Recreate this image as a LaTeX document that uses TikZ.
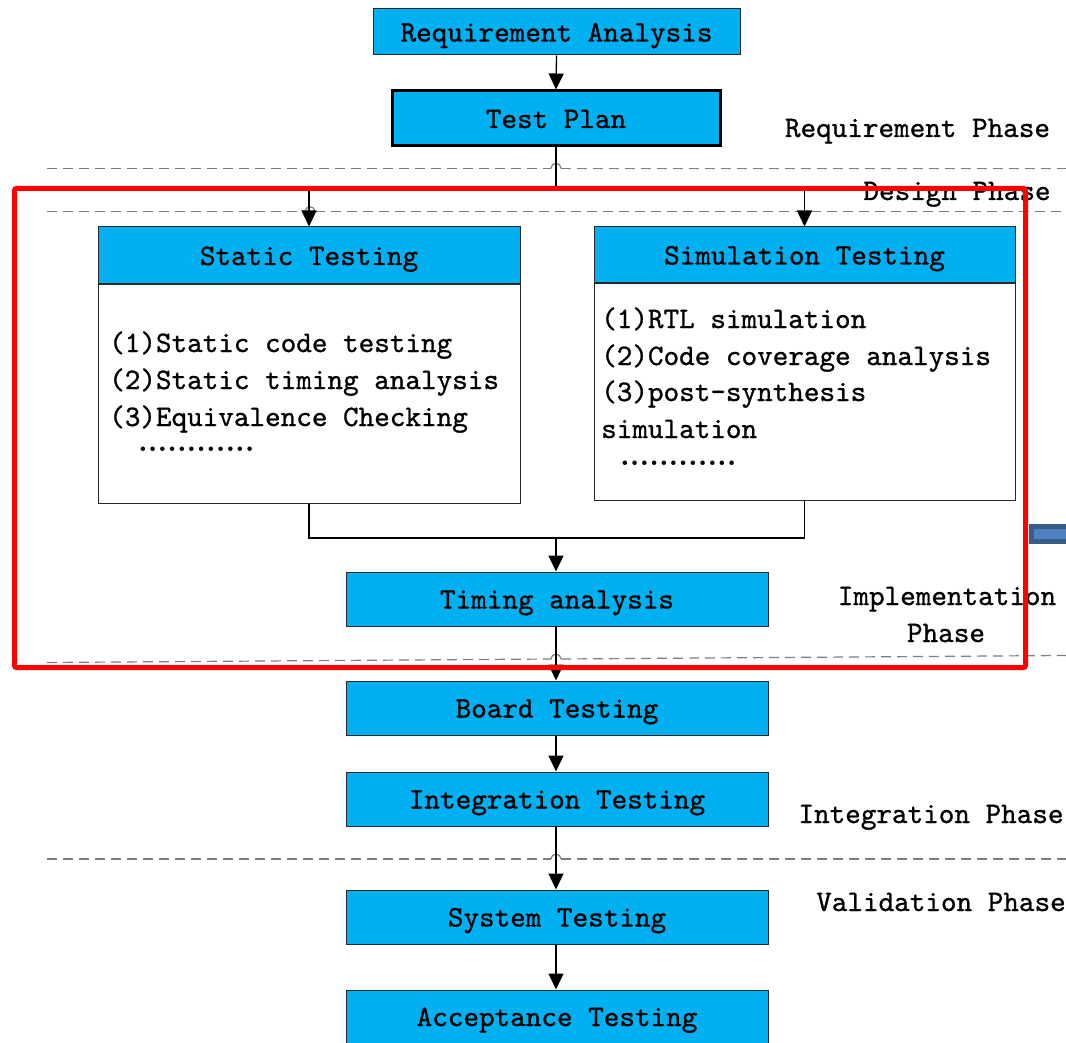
\documentclass[tikz,border=0pt]{standalone}
\usepackage{fontspec}
\usetikzlibrary{arrows.meta}

\newfontfamily\diagmono{lmmono10-regular.otf}[FakeBold=0.9]
\definecolor{boxblue}{RGB}{0,176,240}
\definecolor{edgegray}{RGB}{40,40,40}
\definecolor{phasegray}{RGB}{125,125,125}
\definecolor{barblue}{RGB}{79,129,189}
\definecolor{bardark}{RGB}{56,93,138}
\newcommand\diagfont{\diagmono\fontsize{29.7}{37}\selectfont}
\newcommand\dotrow{{\rmfamily\bfseries\fontsize{31}{31}\selectfont ............}}

\begin{document}
\begin{tikzpicture}[x=1pt,y=-1pt,
  stagebox/.style={draw=edgegray, line width=1pt, fill=boxblue,
    minimum width=422pt, minimum height=54pt, inner sep=0pt,
    font=\diagfont, text height=24pt, text depth=5pt},
  bodybox/.style={draw=edgegray, line width=1pt, fill=white,
    inner sep=0pt, anchor=north},
  itemtext/.style={font=\diagfont, inner sep=0pt, anchor=base west},
  dotstext/.style={inner sep=0pt, anchor=base west, text height=5pt, text depth=0pt},
  phasetext/.style={font=\diagfont, inner sep=0pt, anchor=base},
  phaseline/.style={draw=phasegray, line width=1.2pt, dash pattern=on 10pt off 6pt},
  hop/.style={draw=phasegray, line width=1.2pt},
  flow/.style={draw=black, line width=1.3pt},
  flowarrow/.style={flow, -{Triangle[length=16pt,width=15pt]}}]

\useasboundingbox (0,0) rectangle (1066,1043);

% phase separators, each hopping over the vertical connector
\draw[phaseline] (47,168.3) -- (551,168.3);
\draw[hop] (551,168.3) arc[start angle=180, end angle=0, radius=5pt];
\draw[phaseline] (561,168.3) -- (1066,168.3);

\draw[phaseline] (47,211.7) -- (305,211.7);
\draw[hop] (305,211.7) arc[start angle=180, end angle=0, radius=5pt];
\draw[phaseline] (315,211.7) -- (1066,211.7);

\draw[phaseline] (47,662.5) -- (551,659);
\draw[hop] (551,659) arc[start angle=180, end angle=0, radius=5pt];
\draw[phaseline] (561,659) -- (1066,655.5);

\draw[phaseline] (47,859) -- (551,859);
\draw[hop] (551,859) arc[start angle=180, end angle=0, radius=5pt];
\draw[phaseline] (561,859) -- (1066,859);

% stages
\node[stagebox, minimum width=367pt, minimum height=46pt] (req) at (556.5,32) {Requirement Analysis};
\node[stagebox, minimum width=328pt, minimum height=55pt, draw=black, line width=3pt] (plan) at (556,118.5) {Test Plan};

\node[stagebox, minimum height=57pt] (static) at (309,255.5) {Static Testing};
\node[bodybox, minimum width=422pt, minimum height=218pt] (staticbody) at (static.south) {};
\node[stagebox, minimum width=421pt, minimum height=56pt] (sim) at (804.5,255) {Simulation Testing};
\node[bodybox, minimum width=421pt, minimum height=216pt] (simbody) at (sim.south) {};

\node[stagebox] (timing) at (557,599) {Timing analysis};
\node[stagebox] (board) at (557,708) {Board Testing};
\node[stagebox] (integ) at (557,799) {Integration Testing};
\node[stagebox] (system) at (557,917) {System Testing};
\node[stagebox, minimum height=53pt] (accept) at (557,1016.5) {Acceptance Testing};

% box contents
\node[itemtext] (st1) at (109,352) {(1)Static code testing};
\node[itemtext] (st2) at (109,389) {(2)Static timing analysis};
\node[itemtext] (st3) at (109,426) {(3)Equivalence Checking};
\node[dotstext] (stdots) at (138,451) {\dotrow};

\node[itemtext] (si1) at (601,328) {(1)RTL simulation};
\node[itemtext] (si2) at (601,365) {(2)Code coverage analysis};
\node[itemtext] (si3) at (601,401) {(3)post-synthesis};
\node[itemtext] (si4) at (601,438) {simulation};
\node[dotstext] (sidots) at (620,465) {\dotrow};

% connectors
\coordinate (split) at (556,190);
\coordinate (merge) at (556,538);
\draw[flowarrow] (req.south) -- (plan.north);
\draw[flow] (plan.south) -- (split);
\draw[flowarrow] (split) -| (static.north);
\draw[flowarrow] (split) -| (sim.north);
\draw[flow] (staticbody.south) |- (merge);
\draw[flow] (simbody.south) |- (merge);
\draw[flowarrow] (merge) -- (merge |- timing.north);
\draw[flowarrow] (timing.south -| merge) -- (merge |- board.north);
\draw[flowarrow] (board.south -| merge) -- (merge |- integ.north);
\draw[flowarrow] (integ.south -| merge) -- (merge |- system.north);
\draw[flowarrow] (system.south -| merge) -- (merge |- accept.north);

% phase names
\node[phasetext] (pr) at (917.5,137) {Requirement Phase};
\node[phasetext] (pd) at (957,200) {Design Phase};
\node[phasetext] (pi) at (947,605) {Implementation};
\node[phasetext] (pi2) at (946,642) {Phase};
\node[phasetext] (pg) at (931,823) {Integration Phase};
\node[phasetext] (pv) at (941,911) {Validation Phase};

% bar entering from the right edge
\draw[draw=bardark, fill=barblue, line width=5pt] (1031,526.5) rectangle (1072,541.5);

% highlighted region
\draw[red, line width=5pt, rounded corners=2pt] (14.5,188.5) rectangle (1025.5,667.5);
\end{tikzpicture}
\end{document}
